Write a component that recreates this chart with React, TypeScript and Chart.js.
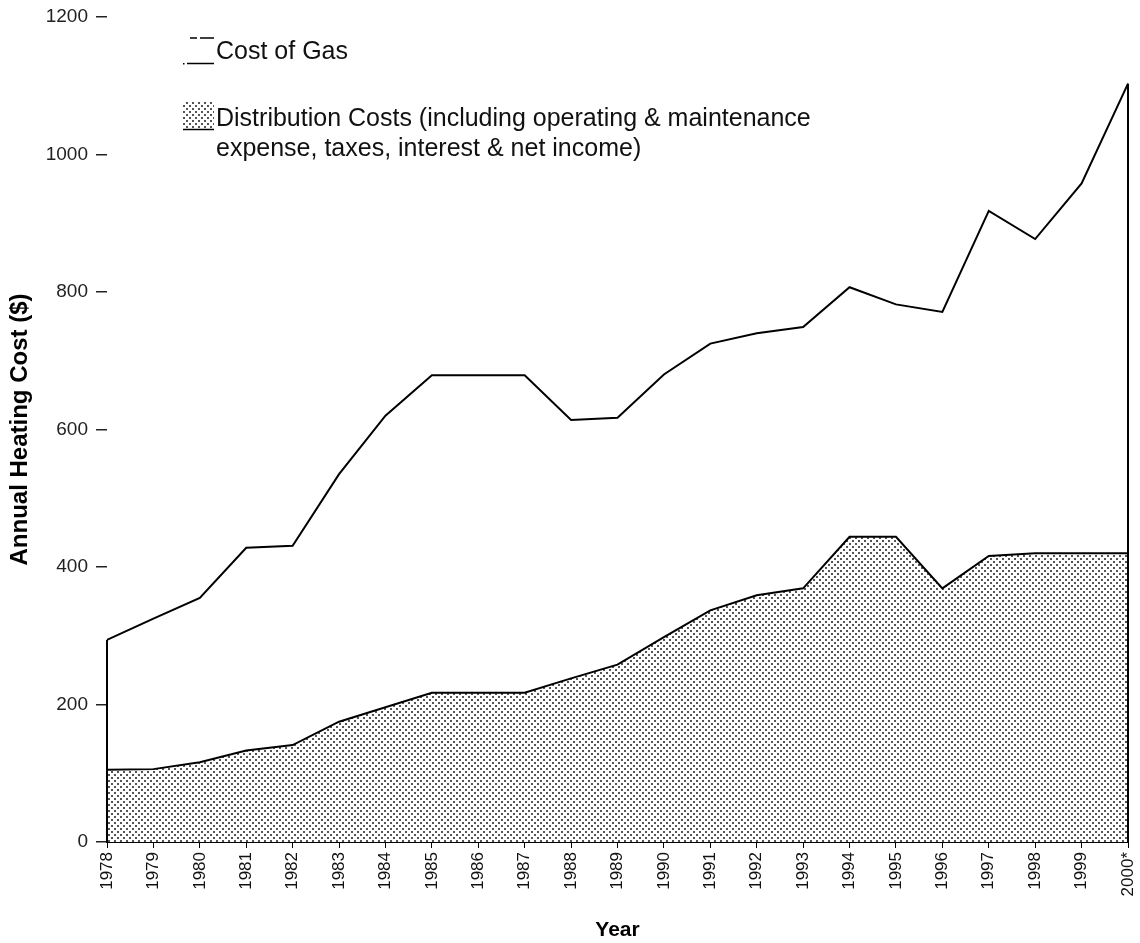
import React, { useEffect, useRef } from "react";
import { Chart, registerables } from "chart.js";

Chart.register(...registerables);

const years: string[] = [
  "1978", "1979", "1980", "1981", "1982", "1983", "1984", "1985", "1986", "1987", "1988",
  "1989", "1990", "1991", "1992", "1993", "1994", "1995", "1996", "1997", "1998", "1999", "2000*",
];

// Distribution costs (bottom, dotted area)
const distributionCosts: number[] = [
  105, 106, 116, 133, 141, 175, 196, 217, 217, 217, 238, 258, 298, 337, 359, 369, 444, 444, 369, 416, 420, 420, 420,
];

// Total annual heating cost (top line = distribution + cost of gas)
const totalCosts: number[] = [
  294, 325, 355, 428, 431, 535, 620, 679, 679, 679, 614, 617, 680, 725, 740, 749, 807, 782, 771, 918, 877, 958, 1103,
];

const yTicks: number[] = [0, 200, 400, 600, 800, 1000, 1200];

const legendGas = "Cost of Gas";
const legendDist1 = "Distribution Costs (including operating & maintenance";
const legendDist2 = "expense, taxes, interest & net income)";

function makePattern(): CanvasPattern | string {
  const c = document.createElement("canvas");
  c.width = 6;
  c.height = 6;
  const g = c.getContext("2d");
  if (!g) return "#ccc";
  g.fillStyle = "#ffffff";
  g.fillRect(0, 0, 6, 6);
  g.fillStyle = "#555";
  g.fillRect(0, 0, 2, 2);
  g.fillRect(3, 3, 2, 2);
  const p = g.createPattern(c, "repeat");
  return p || "#ccc";
}

export default function App() {
  const ref = useRef<HTMLCanvasElement | null>(null);

  useEffect(() => {
    if (!ref.current) return;
    const pattern = makePattern();

    const bgPlugin = {
      id: "bg",
      beforeDraw(chart: any) {
        const ctx = chart.ctx;
        ctx.save();
        ctx.fillStyle = "#ffffff";
        ctx.fillRect(0, 0, chart.width, chart.height);
        ctx.restore();
      },
    };

    const edgePlugin = {
      id: "edges",
      afterDatasetsDraw(chart: any) {
        const ctx = chart.ctx;
        const xs = chart.scales.x;
        const ys = chart.scales.y;
        const last = totalCosts.length - 1;
        const y0 = ys.getPixelForValue(0);
        ctx.save();
        ctx.strokeStyle = "#000";
        ctx.lineWidth = 2;
        const xa = xs.getPixelForValue(0);
        const xb = xs.getPixelForValue(last);
        ctx.beginPath();
        ctx.moveTo(xa, y0);
        ctx.lineTo(xa, ys.getPixelForValue(totalCosts[0]));
        ctx.moveTo(xb, y0);
        ctx.lineTo(xb, ys.getPixelForValue(totalCosts[last]));
        ctx.stroke();
        ctx.restore();
      },
    };

    const legendPlugin = {
      id: "customLegend",
      afterDraw(chart: any) {
        const ctx = chart.ctx;
        ctx.save();
        // swatch for Cost of Gas
        ctx.strokeStyle = "#000";
        ctx.lineWidth = 1.5;
        ctx.beginPath();
        ctx.moveTo(190, 38);
        ctx.lineTo(197, 38);
        ctx.moveTo(200, 38);
        ctx.lineTo(214, 38);
        ctx.moveTo(187, 63.5);
        ctx.lineTo(214, 63.5);
        ctx.stroke();
        ctx.fillStyle = "#000";
        ctx.fillRect(183, 63, 1.5, 1.5);
        // swatch for Distribution
        ctx.fillStyle = pattern as any;
        ctx.fillRect(183, 102, 31, 28);
        ctx.beginPath();
        ctx.moveTo(183, 129.5);
        ctx.lineTo(214, 129.5);
        ctx.stroke();
        // texts
        ctx.fillStyle = "#111";
        ctx.font = '25px "Liberation Sans", Arial, sans-serif';
        ctx.textBaseline = "alphabetic";
        ctx.textAlign = "left";
        ctx.fillText(legendGas, 216, 59);
        ctx.fillText(legendDist1, 216, 126);
        ctx.fillText(legendDist2, 216, 156);
        ctx.restore();
      },
    };

    const chart = new Chart(ref.current, {
      type: "line",
      data: {
        labels: years,
        datasets: [
          {
            label: "Distribution Costs",
            data: distributionCosts,
            borderColor: "#000",
            borderWidth: 2,
            backgroundColor: pattern as any,
            fill: "origin",
            pointRadius: 0,
            tension: 0,
          },
          {
            label: "Cost of Gas",
            data: totalCosts,
            borderColor: "#000",
            borderWidth: 2,
            backgroundColor: "rgba(255,255,255,0)",
            fill: false,
            pointRadius: 0,
            tension: 0,
          },
        ],
      },
      options: {
        responsive: false,
        maintainAspectRatio: false,
        animation: false,
        devicePixelRatio: 1,
        layout: { padding: { left: 0, top: 17, right: 12, bottom: 0 } },
        plugins: {
          legend: { display: false },
          tooltip: { enabled: false },
        },
        scales: {
          x: {
            type: "category",
            offset: false,
            border: { display: true, color: "#000", width: 2 },
            grid: { display: true, drawOnChartArea: false, drawTicks: true, tickLength: 6, color: "#000", lineWidth: 1 },
            ticks: {
              autoSkip: false,
              minRotation: 90,
              maxRotation: 90,
              padding: 4,
              color: "#111",
              font: { family: '"Liberation Sans", Arial, sans-serif', size: 17 },
            },
            title: {
              display: true,
              text: "Year",
              color: "#000",
              font: { family: '"Liberation Sans", Arial, sans-serif', size: 21, weight: "bold" },
              padding: { top: 4, bottom: 0 },
            },
            afterFit(scale: any) {
              scale.height = 101;
              scale.paddingLeft = 0;
              scale.paddingRight = 0;
            },
          },
          y: {
            min: 0,
            max: 1200,
            border: { display: false },
            grid: { display: true, drawOnChartArea: false, drawTicks: true, tickLength: 11, color: "#222", lineWidth: 1.5 },
            afterBuildTicks(scale: any) {
              scale.ticks = yTicks.map((v) => ({ value: v }));
            },
            ticks: {
              padding: 8,
              color: "#222",
              font: { family: '"Liberation Sans", Arial, sans-serif', size: 19 },
              callback: (v: any) => String(v),
            },
            title: {
              display: true,
              text: "Annual Heating Cost ($)",
              color: "#000",
              font: { family: '"Liberation Sans", Arial, sans-serif', size: 24, weight: "bold" },
              padding: { top: 6, bottom: 0 },
            },
            afterFit(scale: any) {
              scale.width = 107;
              scale.paddingTop = 0;
              scale.paddingBottom = 0;
            },
          },
        },
      },
      plugins: [bgPlugin, edgePlugin, legendPlugin],
    });

    return () => {
      chart.destroy();
    };
  }, []);

  return (
    <div style={{ position: "absolute", left: 0, top: 0, width: 1140, height: 943, background: "#fff" }}>
      <canvas ref={ref} width={1140} height={943} style={{ display: "block" }} />
    </div>
  );
}
